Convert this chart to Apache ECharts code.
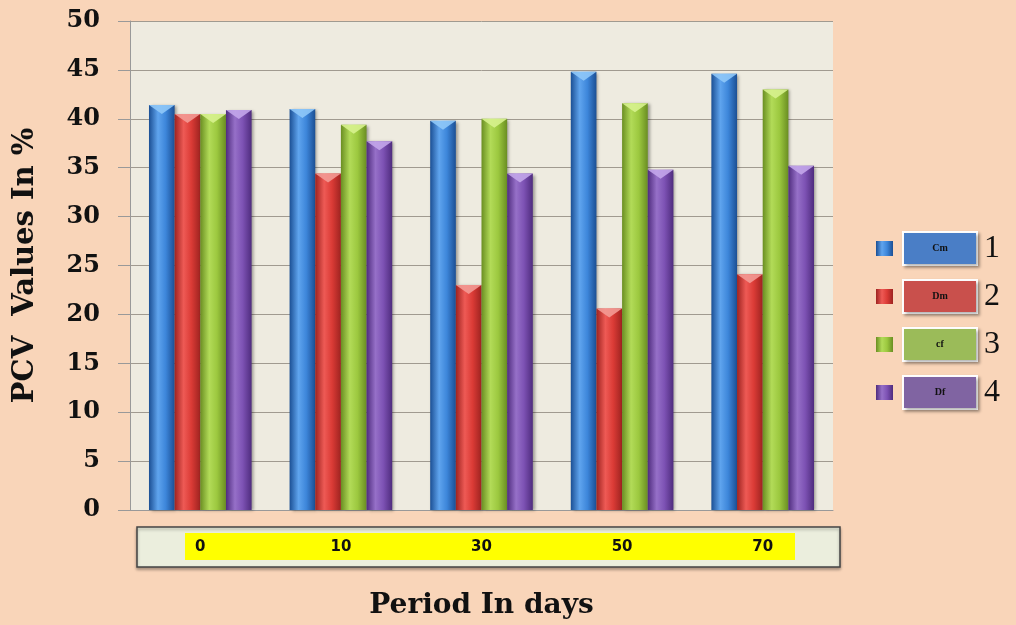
<!DOCTYPE html>
<html><head><meta charset="utf-8">
<script src="https://cdn.jsdelivr.net/npm/echarts@6/dist/echarts.min.js"></script>
<style>html,body{margin:0;padding:0;background:#F9D5B9;}#c{width:1016px;height:625px;}</style>
</head><body><div id="c"></div>
<script>
const categories = ['0', '10', '30', '50', '70'];
const seriesNames = ['Cm', 'Dm', 'cf', 'Df'];
const legendNumbers = ['1', '2', '3', '4'];
const cmValues = [41.4, 41.0, 39.8, 44.8, 44.6];
const dmValues = [40.5, 34.4, 23.0, 20.6, 24.1];
const cfValues = [40.5, 39.4, 40.0, 41.6, 43.0];
const dfValues = [40.9, 37.7, 34.4, 34.8, 35.2];
const yTicks = { min: 0, max: 50, interval: 5 };

const allValues = [cmValues, dmValues, cfValues, dfValues];
const palettes = [
  { dark: '#1B4F94', mid: '#3D86DA', light: '#5FA4EE', top: '#8FC8F8', box: '#4A7EC6' },
  { dark: '#9E2320', mid: '#DB3B36', light: '#EE5A55', top: '#F39A95', box: '#C9504C' },
  { dark: '#6A8E22', mid: '#9CC83F', light: '#B2DB58', top: '#D7F28E', box: '#9BBB59' },
  { dark: '#4F2C7E', mid: '#7D52B4', light: '#9670C8', top: '#C3A6EA', box: '#8064A2' }
];
function grad(p) {
  return new echarts.graphic.LinearGradient(0, 0, 1, 0, [
    { offset: 0, color: p.dark },
    { offset: 0.35, color: p.light },
    { offset: 0.65, color: p.mid },
    { offset: 1, color: p.dark }
  ]);
}
const series = [];
seriesNames.forEach((n, i) => {
  series.push({
    name: n, type: 'bar', data: allValues[i],
    barGap: '0%', barCategoryGap: '27%',
    itemStyle: { color: grad(palettes[i]), shadowColor: 'rgba(0,0,0,0.35)', shadowBlur: 3, shadowOffsetX: 2, shadowOffsetY: 1 },
    emphasis: { disabled: true }
  });
});
seriesNames.forEach((n, i) => {
  series.push({
    name: n, type: 'pictorialBar', data: allValues[i],
    barGap: '0%', barCategoryGap: '27%',
    symbol: 'path://M0,0 L10,0 L5,4 Z', symbolPosition: 'end',
    symbolSize: ['100%', 9], z: 5,
    itemStyle: { color: palettes[i].top, opacity: 0.9 },
    legendHoverLink: false, silent: true
  });
});
const rich = {};
palettes.forEach((p, i) => {
  rich['b' + i] = { backgroundColor: p.box, width: 72, height: 31, align: 'center', fontSize: 10, fontWeight: 'bold', fontFamily: 'Liberation Serif', color: '#111', borderColor: '#FFFFFF', borderWidth: 2, shadowColor: 'rgba(0,0,0,0.3)', shadowBlur: 3, shadowOffsetX: 2, shadowOffsetY: 2 };
});
rich.n = { fontSize: 32, fontFamily: 'Liberation Serif', color: '#111', padding: [0, 0, 0, 8] };

const chart = echarts.init(document.getElementById('c'));
chart.setOption({
  backgroundColor: '#F9D5B9',
  animation: false,
  grid: { left: 130, right: 183, top: 21, bottom: 115, show: true, backgroundColor: '#EEEBE0', borderWidth: 0, containLabel: false, outerBoundsMode: 'none' },
  legend: {
    data: seriesNames, orient: 'vertical', left: 871, top: 226, itemGap: 13,
    itemWidth: 17, itemHeight: 15, icon: 'rect', selectedMode: false,
    formatter: (name) => { const i = seriesNames.indexOf(name); return '{b' + i + '|' + name + '}{n|' + legendNumbers[i] + '}'; },
    textStyle: { rich: rich, padding: [0, 0, 0, 6] }
  },
  graphic: [
    { type: 'rect', z: -1, shape: { x: 137, y: 527, width: 703, height: 40 }, style: { fill: '#EBEEDD', stroke: '#444', lineWidth: 1.5, shadowColor: 'rgba(0,0,0,0.3)', shadowBlur: 3, shadowOffsetY: 2 } },
    { type: 'rect', z: -1, shape: { x: 185, y: 533, width: 610, height: 27 }, style: { fill: '#FFFF00' } }
  ],
  xAxis: {
    type: 'category', data: categories,
    name: 'Period In days', nameLocation: 'middle', nameGap: 82,
    nameTextStyle: { fontFamily: 'DejaVu Serif', fontWeight: 'bold', fontSize: 28, color: '#111' },
    axisLine: { show: true, lineStyle: { color: '#999' } },
    axisTick: { show: false },
    axisLabel: { margin: 30, fontFamily: 'DejaVu Sans', fontWeight: 'bold', fontSize: 15, color: '#111' }
  },
  yAxis: {
    type: 'value', min: yTicks.min, max: yTicks.max, interval: yTicks.interval,
    name: 'PCV  Values In %', nameLocation: 'middle', nameGap: 90,
    nameTextStyle: { fontFamily: 'DejaVu Serif', fontWeight: 'bold', fontSize: 29, color: '#111' },
    axisLine: { show: true, lineStyle: { color: '#999' } },
    axisTick: { show: true, length: 12, lineStyle: { color: '#999' } },
    axisLabel: { margin: 30, fontFamily: 'DejaVu Serif', fontWeight: 'bold', fontSize: 24, color: '#111' },
    splitLine: { lineStyle: { color: '#A09A90', width: 1 } }
  },
  series: series
});
</script></body></html>
